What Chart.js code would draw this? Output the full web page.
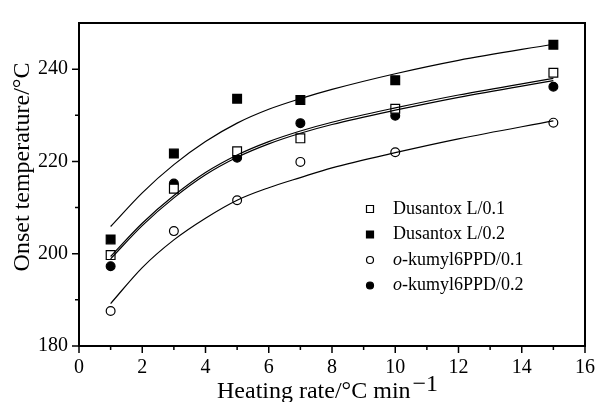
<!DOCTYPE html>
<html lang="en">
<head>
    <meta charset="UTF-8">
    <title>Onset temperature vs heating rate</title>
    <style>
        body { margin: 0; padding: 0; background: #fff; }
        .chart-box { position: relative; width: 605px; height: 402px; }
    </style>
</head>
<body>
    <div class="chart-box">
        <canvas id="onsetChart"></canvas>
    </div>

    <script src="https://cdn.jsdelivr.net/npm/chart.js"></script>
    <script>
        // measured points
        const rates = [1, 3, 5, 7, 10, 15];
        const dusantoxL01 = [199.7, 214.1, 222.2, 225.0, 231.4, 239.2];
        const dusantoxL02 = [203.1, 221.7, 233.6, 233.3, 237.6, 245.3];
        const kumyl01 = [187.6, 204.9, 211.6, 219.9, 222.0, 228.4];
        const kumyl02 = [197.3, 215.2, 220.8, 228.3, 229.9, 236.2];

        // fitted curves
        const fitRates = [1, 2, 3, 4, 5, 6, 7, 8, 10, 12, 15];
        const fitL01 = [199.4, 206.6, 212.6, 217.6, 221.4, 224.3, 226.6, 228.5, 231.6, 234.4, 238.0];
        const fitL02 = [205.9, 213.2, 219.3, 224.3, 228.3, 231.3, 233.6, 235.6, 239.0, 241.9, 245.4];
        const fitK01 = [189.2, 197.0, 203.0, 207.7, 211.6, 214.3, 216.5, 218.6, 221.9, 224.9, 228.8];
        const fitK02 = [198.9, 206.1, 212.1, 217.1, 220.9, 223.8, 226.1, 228.0, 231.1, 233.9, 237.5];

        const seriesNames = ['Dusantox L/0.1', 'Dusantox L/0.2', 'o-kumyl6PPD/0.1', 'o-kumyl6PPD/0.2'];
        const xTicks = [0, 2, 4, 6, 8, 10, 12, 14, 16];
        const yTicks = [180, 200, 220, 240];

        const serif = "'Liberation Serif', 'Times New Roman', serif";

        function pairs(xs, ys) {
            return xs.map((x, i) => ({ x: x, y: ys[i] }));
        }

        function fitSet(ys) {
            return {
                data: pairs(fitRates, ys),
                showLine: true,
                borderColor: '#000',
                borderWidth: 1.2,
                pointRadius: 0,
                cubicInterpolationMode: 'monotone',
                fill: false
            };
        }

        function markSet(label, ys, style, filled) {
            return {
                label: label,
                data: pairs(rates, ys),
                showLine: false,
                pointStyle: style,
                pointRadius: style === 'rect' ? 6.2 : 4.4,
                backgroundColor: filled ? '#000' : '#fff',
                borderColor: '#000',
                borderWidth: 1.2
            };
        }

        // marker drawing shared by the legend
        function drawMarker(ctx, x, y, style, filled, size) {
            ctx.save();
            ctx.fillStyle = filled ? '#000' : '#fff';
            ctx.strokeStyle = '#000';
            ctx.lineWidth = 1.2;
            ctx.beginPath();
            if (style === 'rect') {
                ctx.rect(x - size / 2, y - size / 2, size, size);
            } else {
                ctx.arc(x, y, size / 2, 0, Math.PI * 2);
            }
            ctx.fill();
            ctx.stroke();
            ctx.restore();
        }

        const legendMarks = [['rect', false], ['rect', true], ['circle', false], ['circle', true]];

        const framePlugin = {
            id: 'frame',
            afterDraw(chart) {
                const ctx = chart.ctx;
                const a = chart.chartArea;
                const xs = chart.scales.x;
                const ys = chart.scales.y;

                ctx.save();
                ctx.strokeStyle = '#000';
                ctx.lineWidth = 2;
                ctx.strokeRect(a.left, a.top, a.right - a.left, a.bottom - a.top);

                // ticks outside the bottom and left axes
                ctx.lineWidth = 1.5;
                ctx.beginPath();
                for (let v = 0; v <= 16; v++) {
                    const px = xs.getPixelForValue(v);
                    const len = v % 2 === 0 ? 7 : 4;
                    ctx.moveTo(px, a.bottom);
                    ctx.lineTo(px, a.bottom + len);
                }
                for (let v = 180; v < 250; v += 10) {
                    const py = ys.getPixelForValue(v);
                    const len = v % 20 === 0 ? 7 : 4;
                    ctx.moveTo(a.left, py);
                    ctx.lineTo(a.left - len, py);
                }
                ctx.stroke();

                // axis titles
                ctx.fillStyle = '#000';
                ctx.font = '24px ' + serif;
                ctx.textBaseline = 'alphabetic';
                const main = 'Heating rate/\u00B0C min';
                const sup = '\u22121';
                const wMain = ctx.measureText(main).width;
                let tx = 217;
                ctx.textAlign = 'left';
                ctx.fillText(main, tx, 398);
                ctx.fillText(sup, tx + wMain + 2, 391);

                ctx.save();
                ctx.translate(29, 167);
                ctx.rotate(-Math.PI / 2);
                ctx.textAlign = 'center';
                ctx.fillText('Onset temperature/\u00B0C', 0, 0);
                ctx.restore();

                // legend inside the plot
                ctx.font = '18px ' + serif;
                ctx.textBaseline = 'middle';
                ctx.textAlign = 'left';
                seriesNames.forEach((name, i) => {
                    const y = 209 + i * 25.5;
                    drawMarker(ctx, 370, y, legendMarks[i][0], legendMarks[i][1], 7);
                    let x = 393;
                    if (name.startsWith('o-')) {
                        ctx.font = 'italic 18px ' + serif;
                        ctx.fillText('o', x, y);
                        x += ctx.measureText('o').width;
                        ctx.font = '18px ' + serif;
                        ctx.fillText(name.slice(1), x, y);
                    } else {
                        ctx.fillText(name, x, y);
                    }
                });
                ctx.restore();
            }
        };

        const ctx = document.getElementById('onsetChart').getContext('2d');
        const onsetChart = new Chart(ctx, {
            type: 'scatter',
            data: {
                datasets: [
                    fitSet(fitL01),
                    fitSet(fitL02),
                    fitSet(fitK01),
                    fitSet(fitK02),
                    markSet(seriesNames[0], dusantoxL01, 'rect', false),
                    markSet(seriesNames[1], dusantoxL02, 'rect', true),
                    markSet(seriesNames[2], kumyl01, 'circle', false),
                    markSet(seriesNames[3], kumyl02, 'circle', true)
                ]
            },
            options: {
                responsive: true,
                maintainAspectRatio: false,
                animation: false,
                layout: { padding: { left: 0, right: 13, top: 13, bottom: 0 } },
                plugins: {
                    legend: { display: false },
                    tooltip: { enabled: false }
                },
                scales: {
                    x: {
                        type: 'linear',
                        min: 0,
                        max: 16,
                        afterBuildTicks: (scale) => { scale.ticks = xTicks.map(v => ({ value: v })); },
                        afterFit: (scale) => { scale.height = 56; },
                        grid: { display: false, drawTicks: false },
                        border: { display: false },
                        ticks: {
                            padding: 10,
                            color: '#000',
                            font: { family: serif, size: 20 }
                        }
                    },
                    y: {
                        type: 'linear',
                        min: 180,
                        max: 250,
                        afterBuildTicks: (scale) => { scale.ticks = yTicks.map(v => ({ value: v })); },
                        afterFit: (scale) => { scale.width = 79; },
                        grid: { display: false, drawTicks: false },
                        border: { display: false },
                        ticks: {
                            padding: 11,
                            color: '#000',
                            font: { family: serif, size: 20 }
                        }
                    }
                }
            },
            plugins: [framePlugin]
        });
    </script>
</body>
</html>
